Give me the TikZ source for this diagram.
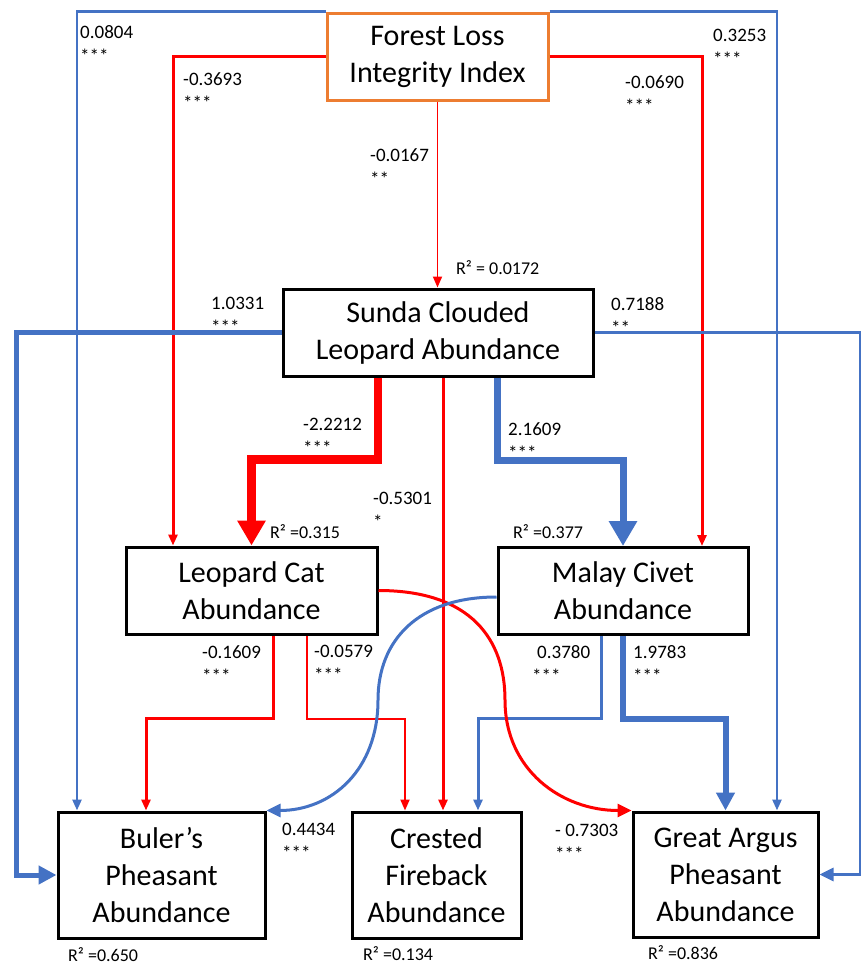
\documentclass[tikz,border=0pt]{standalone}
\usepackage{fontspec}
\setmainfont{Carlito}
\usetikzlibrary{arrows.meta,calc}
\definecolor{cblue}{HTML}{4472C4}
\definecolor{cred}{HTML}{FF0000}
\definecolor{corange}{HTML}{ED7D31}
\begin{document}
\begin{tikzpicture}[x=1pt,y=-1pt,
  box/.style={draw=black, line width=3pt, fill=white, align=center, font=\fontsize{30}{37}\selectfont, inner sep=0pt},
  coef/.style={anchor=north west, inner sep=0pt, align=left, font=\fontsize{19}{24}\selectfont},
  rsq/.style={anchor=north west, inner sep=0pt, font=\fontsize{18}{22}\selectfont},
  bl/.style={draw=cblue, line width=#1},
  rd/.style={draw=cred, line width=#1},
  tipS/.style={-{Triangle[length=11pt,width=9pt]}},
  tipM/.style={-{Triangle[length=14pt,width=13pt]}},
  tipL/.style={-{Triangle[length=18pt,width=18pt]}},
  tipXL/.style={-{Triangle[length=25pt,width=27pt]}}
]
\useasboundingbox (0,0) rectangle (860,967);
% columns
\foreach \xx in {77,777,173,702,378,443,497,273,146,307,405,601,478}{\coordinate (x\xx) at (\xx,0);}
% boxes
\node[box, draw=corange, minimum width=221pt, minimum height=87pt] (forest) at (437.5,56.5) {Forest Loss\\Integrity Index};
\node[box, minimum width=310pt, minimum height=87pt] (sunda) at (438,332.5) {Sunda Clouded\\Leopard Abundance};
\node[box, minimum width=251pt, minimum height=87pt] (lc) at (251.5,590.5) {Leopard Cat\\Abundance};
\node[box, minimum width=250pt, minimum height=87pt] (mc) at (623,591) {Malay Civet\\Abundance};
\node[box, minimum width=207pt, minimum height=126pt] (bp) at (161.5,875) {Buler’s\\Pheasant\\Abundance};
\node[box, minimum width=169pt, minimum height=126pt] (cf) at (436.5,875) {Crested\\Fireback\\Abundance};
\node[box, minimum width=185pt, minimum height=125pt] (ga) at (725.5,874.5) {Great Argus\\Pheasant\\Abundance};
% forest connectors
\draw[bl=2.5pt, tipS] (forest.north west) -| (bp.north -| x77);
\draw[bl=2.5pt, tipS] (forest.north east) -| (ga.north -| x777);
\draw[rd=3pt, tipS] (forest.west) -| (lc.north -| x173);
\draw[rd=3pt, tipS] (forest.east) -| (mc.north -| x702);
\draw[rd=1.8pt, tipS] (forest.south) -- (forest.south |- sunda.north);
% sunda connectors
\draw[bl=5pt, tipL] (sunda.west) -| ($(bp.west)+(-40,0)$) -- (bp.west);
\draw[bl=3pt, tipM] (sunda.east) -| ($(ga.east)+(41,0)$) -- (ga.east);
\draw[rd=8.5pt, tipXL] (sunda.south -| x378) |- ($(lc.north)+(0,-86)$) -- (lc.north);
\draw[rd=3pt, tipS] (sunda.south -| x443) -- (cf.north -| x443);
\draw[bl=7pt, tipXL] (sunda.south -| x497) |- ($(mc.north)+(0,-86)$) -- (mc.north);
% leopard cat connectors
\draw[rd=3pt, tipS] (lc.south -| x273) |- ($(bp.north -| x146)+(0,-92)$) -- (bp.north -| x146);
\draw[rd=2pt, tipS] (lc.south -| x307) |- ($(cf.north -| x405)+(0,-92)$) -- (cf.north -| x405);
% malay civet connectors
\draw[bl=3pt, tipS] (mc.south -| x601) |- ($(cf.north -| x478)+(0,-92)$) -- (cf.north -| x478);
\draw[bl=6pt, tipL] (mc.south) |- ($(ga.north)+(0,-92)$) -- (ga.north);
% curves
\coordinate (rmid) at (505,700);
\coordinate (bmid) at (378,700);
\draw[rd=3pt, tipM] (lc.east) .. controls +(93,0) and +(0,-60) .. (rmid) .. controls +(0,70) and +(-70,0) .. (ga.north west);
\draw[bl=3pt, tipM] ($(mc.west)+(0,6)$) .. controls +(-78,0) and +(0,-60) .. (bmid) .. controls +(0,70) and +(65,0) .. (bp.north east);
% coefficient labels
\node[coef] (l1) at (80,25) {0.0804\\***};
\node[coef] (l2) at (183,72) {-0.3693\\***};
\node[coef] (l3) at (370,148) {-0.0167\\**};
\node[coef] (l4) at (625,75) {-0.0690\\***};
\node[coef] (l5) at (713,29) {0.3253\\***};
\node[coef] (l6) at (211,297) {1.0331\\***};
\node[coef] (l7) at (611,297) {0.7188\\**};
\node[coef] (l8) at (303,418) {-2.2212\\***};
\node[coef] (l9) at (508,422) {2.1609\\***};
\node[coef] (l10) at (373,492) {-0.5301\\*};
\node[coef] (l11) at (202,645) {-0.1609\\***};
\node[coef] (l12) at (314,645) {-0.0579\\***};
\node[coef] (l13) at (532,645) {\hspace{5pt}0.3780\\***};
\node[coef] (l14) at (633,645) {1.9783\\***};
\node[coef] (l15) at (282,823) {0.4434\\***};
\node[coef] (l16) at (555,824) {- 0.7303\\***};
% R2 labels
\node[rsq] (r1) at (456,260) {R² = 0.0172};
\node[rsq] (r2) at (270,524) {R² =0.315};
\node[rsq] (r3) at (513,524) {R² =0.377};
\node[rsq] (r4) at (68,947) {R² =0.650};
\node[rsq] (r5) at (363,946) {R² =0.134};
\node[rsq] (r6) at (648,945) {R² =0.836};
\end{tikzpicture}
\end{document}
